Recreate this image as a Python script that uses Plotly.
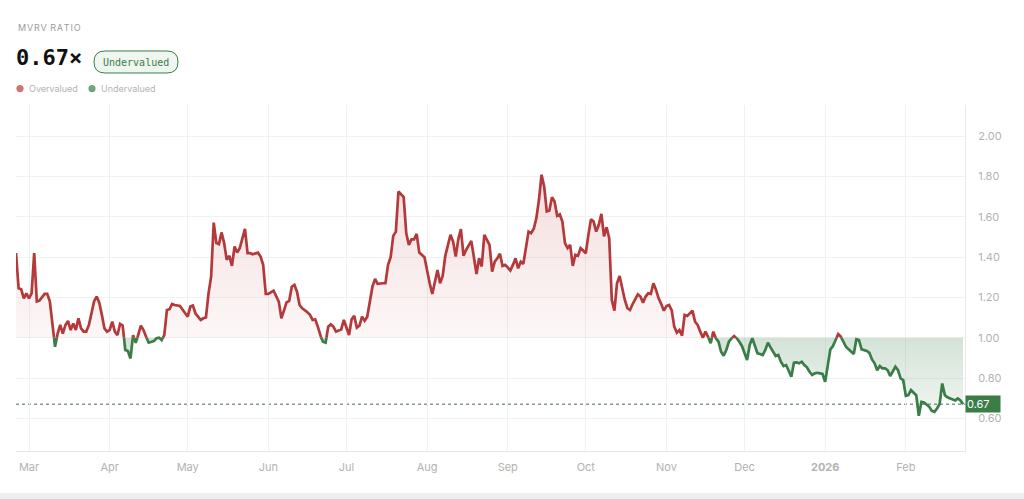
import numpy as np
import pandas as pd
import plotly.graph_objects as go

# ---------------- data ----------------
dates = [
    "2025-02-24", "2025-02-25", "2025-02-26", "2025-02-27", "2025-02-28", "2025-03-01", "2025-03-02", "2025-03-03",
    "2025-03-04", "2025-03-05", "2025-03-07", "2025-03-08", "2025-03-09", "2025-03-10", "2025-03-11", "2025-03-12",
    "2025-03-13", "2025-03-14", "2025-03-15", "2025-03-16", "2025-03-17", "2025-03-18", "2025-03-19", "2025-03-20",
    "2025-03-21", "2025-03-22", "2025-03-23", "2025-03-24", "2025-03-25", "2025-03-26", "2025-03-27", "2025-03-28",
    "2025-03-29", "2025-03-30", "2025-03-31", "2025-04-01", "2025-04-02", "2025-04-03", "2025-04-04", "2025-04-05",
    "2025-04-06", "2025-04-07", "2025-04-08", "2025-04-09", "2025-04-10", "2025-04-11", "2025-04-12", "2025-04-13",
    "2025-04-14", "2025-04-15", "2025-04-16", "2025-04-18", "2025-04-19", "2025-04-20", "2025-04-21", "2025-04-22",
    "2025-04-23", "2025-04-24", "2025-04-25", "2025-04-26", "2025-04-28", "2025-04-29", "2025-04-30", "2025-05-01",
    "2025-05-02", "2025-05-03", "2025-05-04", "2025-05-06", "2025-05-07", "2025-05-08", "2025-05-09", "2025-05-10",
    "2025-05-11", "2025-05-12", "2025-05-13", "2025-05-14", "2025-05-15", "2025-05-16", "2025-05-17", "2025-05-18",
    "2025-05-19", "2025-05-20", "2025-05-21", "2025-05-23", "2025-05-24", "2025-05-25", "2025-05-26", "2025-05-28",
    "2025-05-29", "2025-05-30", "2025-05-31", "2025-06-01", "2025-06-03", "2025-06-04", "2025-06-05", "2025-06-06",
    "2025-06-07", "2025-06-08", "2025-06-09", "2025-06-10", "2025-06-11", "2025-06-12", "2025-06-13", "2025-06-14",
    "2025-06-16", "2025-06-17", "2025-06-18", "2025-06-19", "2025-06-20", "2025-06-21", "2025-06-22", "2025-06-23",
    "2025-06-24", "2025-06-25", "2025-06-26", "2025-06-27", "2025-06-29", "2025-06-30", "2025-07-01", "2025-07-02",
    "2025-07-03", "2025-07-04", "2025-07-05", "2025-07-06", "2025-07-07", "2025-07-08", "2025-07-09", "2025-07-10",
    "2025-07-11", "2025-07-12", "2025-07-13", "2025-07-15", "2025-07-16", "2025-07-17", "2025-07-18", "2025-07-19",
    "2025-07-20", "2025-07-21", "2025-07-22", "2025-07-23", "2025-07-24", "2025-07-25", "2025-07-26", "2025-07-27",
    "2025-07-28", "2025-07-29", "2025-07-31", "2025-08-01", "2025-08-02", "2025-08-03", "2025-08-04", "2025-08-05",
    "2025-08-06", "2025-08-07", "2025-08-08", "2025-08-10", "2025-08-11", "2025-08-12", "2025-08-13", "2025-08-14",
    "2025-08-15", "2025-08-16", "2025-08-18", "2025-08-19", "2025-08-20", "2025-08-21", "2025-08-22", "2025-08-23",
    "2025-08-24", "2025-08-25", "2025-08-26", "2025-08-27", "2025-08-28", "2025-08-29", "2025-08-30", "2025-08-31",
    "2025-09-01", "2025-09-02", "2025-09-03", "2025-09-04", "2025-09-05", "2025-09-06", "2025-09-07", "2025-09-08",
    "2025-09-09", "2025-09-10", "2025-09-11", "2025-09-12", "2025-09-13", "2025-09-14", "2025-09-15", "2025-09-16",
    "2025-09-17", "2025-09-18", "2025-09-19", "2025-09-20", "2025-09-21", "2025-09-22", "2025-09-23", "2025-09-24",
    "2025-09-25", "2025-09-26", "2025-09-27", "2025-09-28", "2025-09-29", "2025-09-30", "2025-10-01", "2025-10-02",
    "2025-10-03", "2025-10-04", "2025-10-05", "2025-10-06", "2025-10-07", "2025-10-08", "2025-10-09", "2025-10-10",
    "2025-10-11", "2025-10-12", "2025-10-13", "2025-10-14", "2025-10-15", "2025-10-16", "2025-10-17", "2025-10-18",
    "2025-10-19", "2025-10-21", "2025-10-22", "2025-10-23", "2025-10-24", "2025-10-25", "2025-10-26", "2025-10-27",
    "2025-10-28", "2025-10-29", "2025-10-30", "2025-10-31", "2025-11-01", "2025-11-02", "2025-11-03", "2025-11-04",
    "2025-11-05", "2025-11-06", "2025-11-07", "2025-11-08", "2025-11-09", "2025-11-10", "2025-11-11", "2025-11-12",
    "2025-11-13", "2025-11-14", "2025-11-15", "2025-11-16", "2025-11-17", "2025-11-18", "2025-11-19", "2025-11-20",
    "2025-11-21", "2025-11-22", "2025-11-23", "2025-11-24", "2025-11-25", "2025-11-26", "2025-11-27", "2025-11-28",
    "2025-11-29", "2025-11-30", "2025-12-02", "2025-12-03", "2025-12-04", "2025-12-05", "2025-12-06", "2025-12-07",
    "2025-12-08", "2025-12-09", "2025-12-10", "2025-12-11", "2025-12-12", "2025-12-13", "2025-12-14", "2025-12-15",
    "2025-12-16", "2025-12-17", "2025-12-18", "2025-12-19", "2025-12-20", "2025-12-21", "2025-12-22", "2025-12-23",
    "2025-12-24", "2025-12-25", "2025-12-26", "2025-12-27", "2025-12-28", "2025-12-29", "2025-12-30", "2025-12-31",
    "2026-01-01", "2026-01-02", "2026-01-03", "2026-01-04", "2026-01-05", "2026-01-06", "2026-01-07", "2026-01-08",
    "2026-01-09", "2026-01-10", "2026-01-11", "2026-01-12", "2026-01-13", "2026-01-14", "2026-01-15", "2026-01-17",
    "2026-01-18", "2026-01-19", "2026-01-20", "2026-01-21", "2026-01-22", "2026-01-23", "2026-01-24", "2026-01-25",
    "2026-01-26", "2026-01-27", "2026-01-28", "2026-01-29", "2026-01-30", "2026-01-31", "2026-02-01", "2026-02-02",
    "2026-02-03", "2026-02-04", "2026-02-05", "2026-02-06", "2026-02-07", "2026-02-08", "2026-02-09", "2026-02-10",
    "2026-02-11", "2026-02-12", "2026-02-13", "2026-02-14", "2026-02-15", "2026-02-16", "2026-02-17", "2026-02-18",
    "2026-02-19", "2026-02-20", "2026-02-21", "2026-02-22", "2026-02-23",
]

mvrv = [
    1.420, 1.245, 1.240, 1.195, 1.220, 1.195, 1.220, 1.420,
    1.180, 1.184, 1.217, 1.217, 1.180, 1.070, 0.955, 1.020,
    1.063, 1.020, 1.063, 1.083, 1.038, 1.071, 1.038, 1.096,
    1.046, 1.030, 1.030, 1.063, 1.120, 1.180, 1.204, 1.174,
    1.113, 1.046, 1.030, 1.038, 1.080, 1.030, 1.013, 1.068,
    1.060, 0.939, 0.934, 0.897, 1.013, 0.975, 1.013, 1.060,
    1.038, 1.005, 0.975, 0.983, 0.997, 1.000, 0.988, 1.013,
    1.137, 1.141, 1.167, 1.162, 1.157, 1.141, 1.120, 1.104,
    1.154, 1.159, 1.120, 1.088, 1.096, 1.100, 1.220, 1.303,
    1.571, 1.469, 1.464, 1.522, 1.469, 1.386, 1.406, 1.356,
    1.452, 1.422, 1.444, 1.540, 1.419, 1.419, 1.414, 1.422,
    1.402, 1.361, 1.217, 1.217, 1.233, 1.207, 1.179, 1.096,
    1.137, 1.175, 1.182, 1.253, 1.262, 1.228, 1.162, 1.146,
    1.126, 1.113, 1.088, 1.091, 1.055, 1.008, 0.980, 0.975,
    1.055, 1.066, 1.055, 1.030, 1.041, 1.088, 1.055, 1.013,
    1.091, 1.108, 1.050, 1.060, 1.104, 1.084, 1.104, 1.171,
    1.253, 1.291, 1.267, 1.270, 1.270, 1.361, 1.399, 1.505,
    1.526, 1.725, 1.712, 1.697, 1.518, 1.460, 1.488, 1.488,
    1.515, 1.422, 1.399, 1.328, 1.270, 1.217, 1.270, 1.336,
    1.270, 1.306, 1.406, 1.510, 1.477, 1.402, 1.488, 1.538,
    1.406, 1.435, 1.480, 1.386, 1.316, 1.394, 1.353, 1.510,
    1.485, 1.460, 1.328, 1.377, 1.394, 1.416, 1.356, 1.361,
    1.349, 1.333, 1.361, 1.394, 1.344, 1.377, 1.366, 1.452,
    1.526, 1.518, 1.540, 1.593, 1.684, 1.808, 1.750, 1.626,
    1.631, 1.697, 1.675, 1.604, 1.612, 1.576, 1.469, 1.444,
    1.460, 1.356, 1.411, 1.406, 1.444, 1.432, 1.419, 1.510,
    1.588, 1.576, 1.526, 1.560, 1.614, 1.502, 1.548, 1.493,
    1.187, 1.134, 1.270, 1.306, 1.237, 1.187, 1.146, 1.137,
    1.167, 1.215, 1.204, 1.174, 1.204, 1.220, 1.217, 1.270,
    1.237, 1.195, 1.167, 1.134, 1.157, 1.162, 1.137, 1.055,
    1.025, 1.038, 1.010, 1.113, 1.108, 1.120, 1.134, 1.079,
    1.063, 1.030, 1.000, 1.030, 1.005, 0.972, 1.030, 0.997,
    0.980, 0.930, 0.911, 0.939, 0.980, 0.997, 1.008, 0.997,
    0.980, 0.959, 0.889, 0.964, 0.997, 0.964, 0.922, 0.919,
    0.914, 0.939, 0.975, 0.952, 0.930, 0.909, 0.914, 0.881,
    0.859, 0.864, 0.836, 0.806, 0.876, 0.877, 0.873, 0.881,
    0.864, 0.853, 0.831, 0.815, 0.823, 0.826, 0.823, 0.820,
    0.781, 0.873, 0.942, 0.959, 0.988, 1.018, 1.005, 0.980,
    0.955, 0.942, 0.930, 0.919, 0.992, 0.988, 0.942, 0.934,
    0.925, 0.892, 0.873, 0.839, 0.859, 0.848, 0.848, 0.839,
    0.810, 0.831, 0.856, 0.839, 0.798, 0.790, 0.712, 0.715,
    0.740, 0.727, 0.715, 0.613, 0.682, 0.679, 0.669, 0.657,
    0.637, 0.632, 0.649, 0.671, 0.773, 0.715, 0.704, 0.699,
    0.692, 0.689, 0.699, 0.689, 0.670,
]

current_value = 0.67
fair_value = 1.0
status_label = "Undervalued"
month_ticks = ["2025-03-01", "2025-04-01", "2025-05-01", "2025-06-01", "2025-07-01", "2025-08-01",
               "2025-09-01", "2025-10-01", "2025-11-01", "2025-12-01", "2026-01-01", "2026-02-01"]
month_labels = ["Mar", "Apr", "May", "Jun", "Jul", "Aug", "Sep", "Oct", "Nov", "Dec",
                "<b>2026</b>", "Feb"]
y_ticks = [0.6, 0.8, 1.0, 1.2, 1.4, 1.6, 1.8, 2.0]

# ---------------- styling ----------------
RED = "#b3393a"
GREEN = "#3a7d47"
W, H = 1024, 499
ML, MR, MT, MB = 16, 59, 105, 48
PW, PH = W - ML - MR, H - MT - MB


def px(x):
    return (x - ML) / PW


def py(y):
    return (H - MB - y) / PH


# ---------------- split line at fair value ----------------
t = pd.to_datetime(pd.Series(dates)).astype("int64").to_numpy().astype(float)
v = np.array(mvrv, dtype=float)
xs, ys = [t[0]], [v[0]]
for i in range(1, len(v)):
    a, b = v[i - 1], v[i]
    if (a - fair_value) * (b - fair_value) < 0:
        f = (fair_value - a) / (b - a)
        xs.append(t[i - 1] + f * (t[i] - t[i - 1]))
        ys.append(fair_value)
    xs.append(t[i])
    ys.append(b)
xs = pd.to_datetime(np.array(xs).astype("int64"))
ys = np.array(ys)

red_y = [y if y >= fair_value else None for y in ys]
green_y = [y if y <= fair_value else None for y in ys]
base = np.full(len(ys), fair_value)

fig = go.Figure()
# red fill
fig.add_trace(go.Scatter(x=xs, y=base, mode="lines", line=dict(width=0), hoverinfo="skip", showlegend=False))
fig.add_trace(go.Scatter(
    x=xs, y=np.maximum(ys, fair_value), mode="lines", line=dict(width=0), fill="tonexty",
    fillgradient=dict(type="vertical", colorscale=[[0, "rgba(190,60,60,0.04)"], [1, "rgba(190,60,60,0.17)"]]),
    hoverinfo="skip", showlegend=False))
# green fill
fig.add_trace(go.Scatter(x=xs, y=base, mode="lines", line=dict(width=0), hoverinfo="skip", showlegend=False))
fig.add_trace(go.Scatter(
    x=xs, y=np.minimum(ys, fair_value), mode="lines", line=dict(width=0), fill="tonexty",
    fillgradient=dict(type="vertical", colorscale=[[0, "rgba(58,125,71,0.07)"], [1, "rgba(58,125,71,0.22)"]]),
    hoverinfo="skip", showlegend=False))
# lines
fig.add_trace(go.Scatter(x=xs, y=red_y, mode="lines", line=dict(color=RED, width=2.7),
                         connectgaps=False, showlegend=False))
fig.add_trace(go.Scatter(x=xs, y=green_y, mode="lines", line=dict(color=GREEN, width=2.7),
                         connectgaps=False, showlegend=False))

FONT = "Inter, Roboto, sans-serif"
MONO = "DejaVu Sans Mono, monospace"

shapes = []
# current value dotted line
shapes.append(dict(type="line", xref="paper", yref="y", x0=0, x1=1, y0=current_value, y1=current_value,
                   line=dict(color="rgba(110,140,118,0.85)", width=1.5, dash="dot"), layer="below"))
# card bottom edge
shapes.append(dict(type="rect", xref="paper", yref="paper", x0=px(-5), x1=px(1030), y0=py(499), y1=py(493),
                   fillcolor="#eeeeee", line=dict(width=0), layer="below"))

# badge pill
bx0, bx1, by0, by1, r = 94, 178, 51, 73, 11
pts = [("M", bx0 + r, by0), ("L", bx1 - r, by0), ("Q", bx1, by0, bx1, by0 + r), ("L", bx1, by1 - r),
       ("Q", bx1, by1, bx1 - r, by1), ("L", bx0 + r, by1), ("Q", bx0, by1, bx0, by1 - r),
       ("L", bx0, by0 + r), ("Q", bx0, by0, bx0 + r, by0)]
path = ""
for p in pts:
    cmd = p[0]
    coords = p[1:]
    seg = " ".join(f"{px(coords[k]):.5f},{py(coords[k + 1]):.5f}" for k in range(0, len(coords), 2))
    path += f"{cmd}{seg} "
path += "Z"
shapes.append(dict(type="path", xref="paper", yref="paper", path=path, fillcolor="#eef6ef",
                   line=dict(color=GREEN, width=1)))

# legend dots
for cx, col in [(20, "#d27474"), (92, "#6fa77b")]:
    shapes.append(dict(type="circle", xref="paper", yref="paper", x0=px(cx - 3.6), x1=px(cx + 3.6),
                       y0=py(88.6 + 3.6), y1=py(88.6 - 3.6), fillcolor=col, line=dict(width=0)))

hs = "\u200a"
annotations = [
    dict(text=hs.join("MVRV") + " " + hs + hs.join("RATIO"), x=px(16), y=py(27.5), xref="paper", yref="paper",
         xanchor="left", yanchor="middle", showarrow=False,
         font=dict(family=FONT, size=9, color="#9b9b9b")),
    dict(text=f"<b>{current_value:.2f}×</b>", x=px(14), y=py(57.5), xref="paper", yref="paper",
         xanchor="left", yanchor="middle", showarrow=False,
         font=dict(family=MONO, size=22, color="#111111")),
    dict(text=status_label, x=px((bx0 + bx1) / 2), y=py(62), xref="paper", yref="paper",
         xanchor="center", yanchor="middle", showarrow=False,
         font=dict(family=MONO, size=10, color=GREEN)),
    dict(text="Overvalued", x=px(27), y=py(88.6), xref="paper", yref="paper",
         xanchor="left", yanchor="middle", showarrow=False,
         font=dict(family=FONT, size=9, color="#b3b3b3")),
    dict(text="Undervalued", x=px(99), y=py(88.6), xref="paper", yref="paper",
         xanchor="left", yanchor="middle", showarrow=False,
         font=dict(family=FONT, size=9, color="#b3b3b3")),
    dict(text=f"{current_value:.2f}", x=1, y=current_value, xref="paper", yref="y",
         xanchor="left", yanchor="middle", showarrow=False, align="left",
         bgcolor=GREEN, width=32, height=14, borderpad=1,
         font=dict(family=FONT, size=11, color="white")),
]

fig.update_layout(
    width=W, height=H,
    margin=dict(l=ML, r=MR, t=MT, b=MB, pad=0),
    paper_bgcolor="white", plot_bgcolor="white",
    font=dict(family=FONT),
    showlegend=False, hovermode=False,
    shapes=shapes, annotations=annotations,
    xaxis=dict(
        type="date", range=["2025-02-24", "2026-02-23 18:00"],
        tickvals=month_ticks, ticktext=month_labels,
        showgrid=True, gridcolor="#f1f1f1", gridwidth=1,
        showline=True, linecolor="#e6e6e6", linewidth=1,
        ticks="", ticklabelstandoff=6,
        tickfont=dict(family=FONT, size=11, color="#b2b2b2"),
        zeroline=False, fixedrange=True,
    ),
    yaxis=dict(
        side="right", range=[0.438, 2.154],
        tickvals=y_ticks, ticktext=[f"{y:.2f}" for y in y_ticks],
        showgrid=True, gridcolor="#f1f1f1", gridwidth=1,
        showline=True, linecolor="#eaeaea", linewidth=1,
        ticks="", ticklabelstandoff=10,
        tickfont=dict(family=FONT, size=11, color="#b2b2b2"),
        zeroline=False, fixedrange=True,
    ),
)

fig.write_html("out.html")
